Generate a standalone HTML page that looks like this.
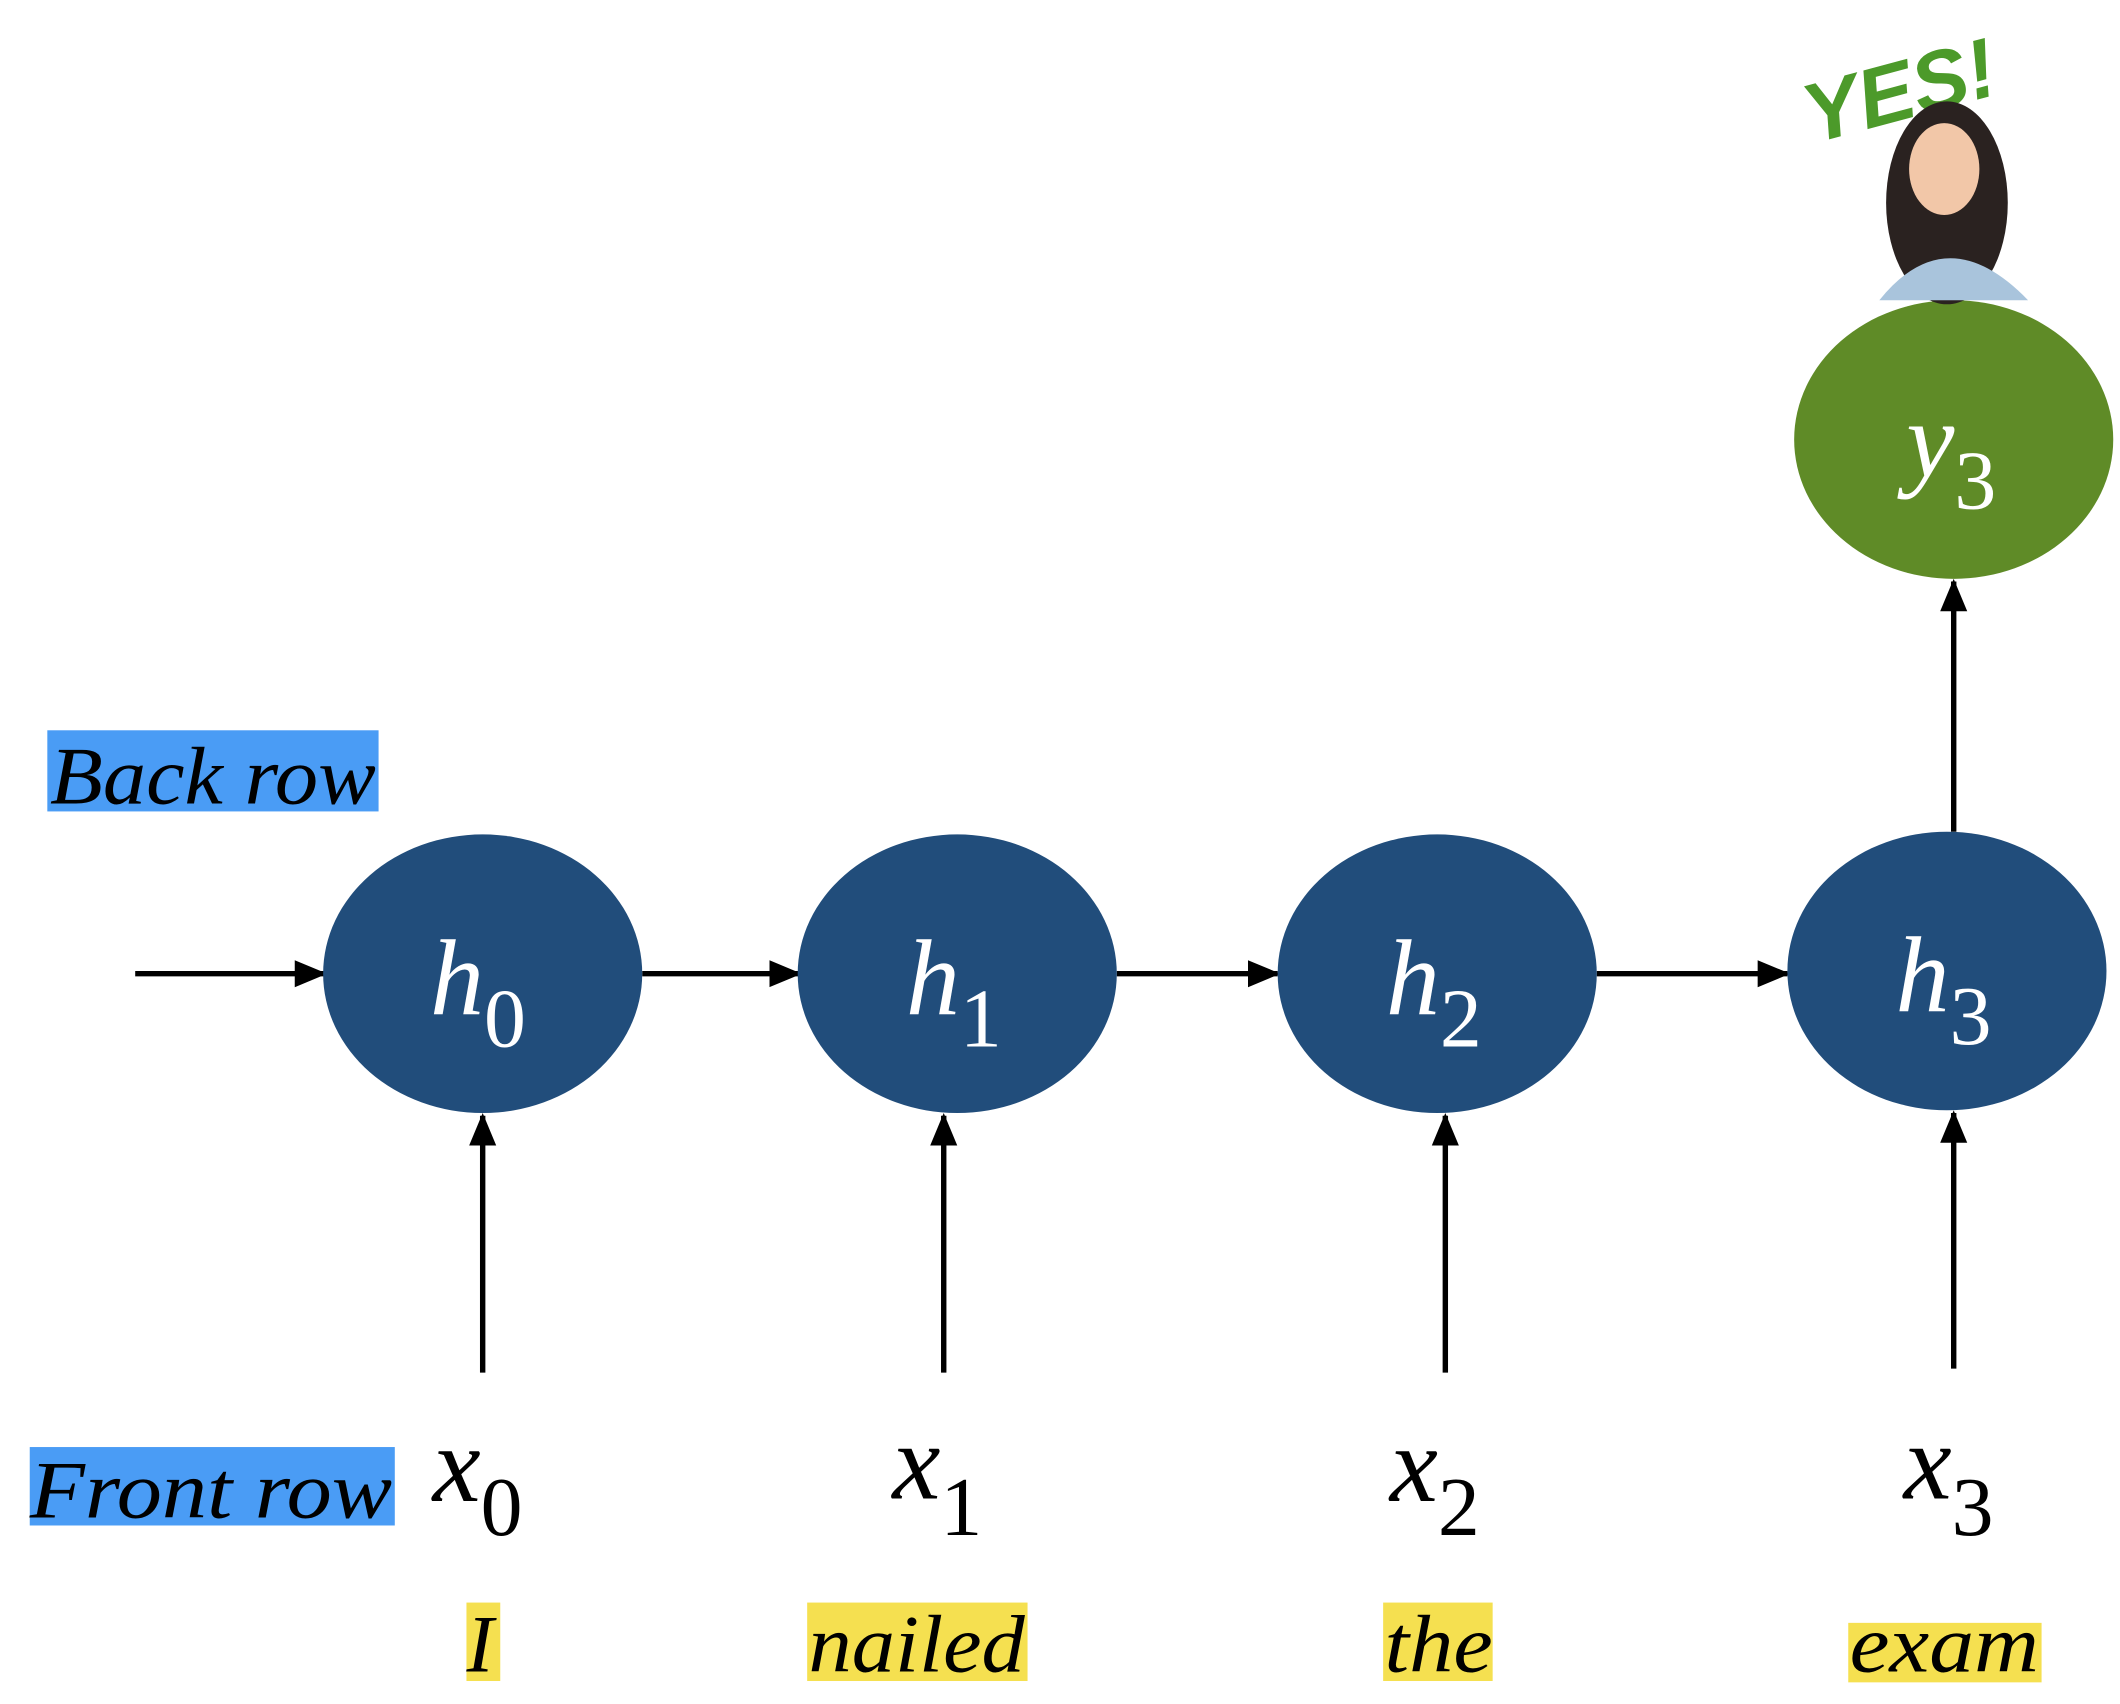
<!DOCTYPE html>
<html><head><meta charset="utf-8"><style>
html,body{margin:0;padding:0;background:#fff;}
svg{display:block}
text{font-family:"Liberation Serif",serif;font-style:italic;}
</style></head><body>
<svg width="2120" height="1704" viewBox="0 0 1568 1260" preserveAspectRatio="none" xmlns="http://www.w3.org/2000/svg">
<defs>
<marker id="b" markerWidth="24" markerHeight="24" refX="22" refY="12" orient="auto" markerUnits="userSpaceOnUse"><path d="M0,2 L24,12 L0,22 z" fill="#000"/></marker></defs>
<rect x="35" y="540" width="245" height="60" fill="#4a9cf5"/>
<rect x="22" y="1070" width="270" height="58" fill="#4a9cf5"/>
<rect x="345" y="1185" width="25" height="58" fill="#f5e050"/>
<rect x="597" y="1185" width="163" height="58" fill="#f5e050"/>
<rect x="1023" y="1185" width="81" height="58" fill="#f5e050"/>
<rect x="1367" y="1200" width="143" height="44" fill="#f5e050"/>
<text x="37" y="594" font-size="60" textLength="241" lengthAdjust="spacingAndGlyphs">Back row</text>
<text x="22" y="1122" font-size="60" textLength="268" lengthAdjust="spacingAndGlyphs">Front row</text>
<text x="345" y="1236" font-size="60">I</text>
<text x="598" y="1236" font-size="60" textLength="160" lengthAdjust="spacingAndGlyphs">nailed</text>
<text x="1024" y="1236" font-size="60" textLength="80" lengthAdjust="spacingAndGlyphs">the</text>
<text x="1368" y="1236" font-size="60" textLength="140" lengthAdjust="spacingAndGlyphs">exam</text>
<g stroke="#000" stroke-width="4">
<line x1="100" y1="720" x2="240" y2="720" marker-end="url(#b)"/>
<line x1="475" y1="720" x2="591" y2="720" marker-end="url(#b)"/>
<line x1="826" y1="720" x2="945" y2="720" marker-end="url(#b)"/>
<line x1="1181" y1="720" x2="1322" y2="720" marker-end="url(#b)"/>
<line x1="357" y1="1015" x2="357" y2="825" marker-end="url(#b)"/>
<line x1="698" y1="1015" x2="698" y2="825" marker-end="url(#b)"/>
<line x1="1069" y1="1015" x2="1069" y2="825" marker-end="url(#b)"/>
<line x1="1445" y1="1012" x2="1445" y2="823" marker-end="url(#b)"/>
<line x1="1445" y1="615" x2="1445" y2="430" marker-end="url(#b)"/>
</g>
<g fill="#214d7b">
<ellipse cx="357" cy="720" rx="118" ry="103"/>
<ellipse cx="708" cy="720" rx="118" ry="103"/>
<ellipse cx="1063" cy="720" rx="118" ry="103"/>
<ellipse cx="1440" cy="718" rx="118" ry="103"/>
</g>
<ellipse cx="1445" cy="325" rx="118" ry="103" fill="#5f8b27"/>
<g fill="#fff" font-size="80">
<text x="318" y="750">h<tspan font-style="normal" font-size="62" dy="24">0</tspan></text>
<text x="670" y="750">h<tspan font-style="normal" font-size="62" dy="24">1</tspan></text>
<text x="1025" y="750">h<tspan font-style="normal" font-size="62" dy="24">2</tspan></text>
<text x="1402" y="748">h<tspan font-style="normal" font-size="62" dy="24">3</tspan></text>
<text x="1410" y="352">y<tspan font-style="normal" font-size="62" dy="24">3</tspan></text>
</g>
<g fill="#000" font-size="80">
<text x="320" y="1110">x<tspan font-style="normal" font-size="62" dy="25">0</tspan></text>
<text x="660" y="1108">x<tspan font-style="normal" font-size="62" dy="27">1</tspan></text>
<text x="1028" y="1110">x<tspan font-style="normal" font-size="62" dy="25">2</tspan></text>
<text x="1408" y="1108">x<tspan font-style="normal" font-size="62" dy="27">3</tspan></text>
</g>
<text x="1330" y="92" font-size="62" font-weight="bold" fill="#4c9a2a" font-style="italic" transform="rotate(-15 1390 60)" style="font-family:'Liberation Sans',sans-serif">YES!</text>
<ellipse cx="1440" cy="150" rx="45" ry="75" fill="#2a2220"/>
<ellipse cx="1438" cy="125" rx="26" ry="34" fill="#f2c7a8"/>
<path d="M1390,222 Q1440,160 1500,222 Z" fill="#a9c4dc"/>
</svg>
</body></html>
